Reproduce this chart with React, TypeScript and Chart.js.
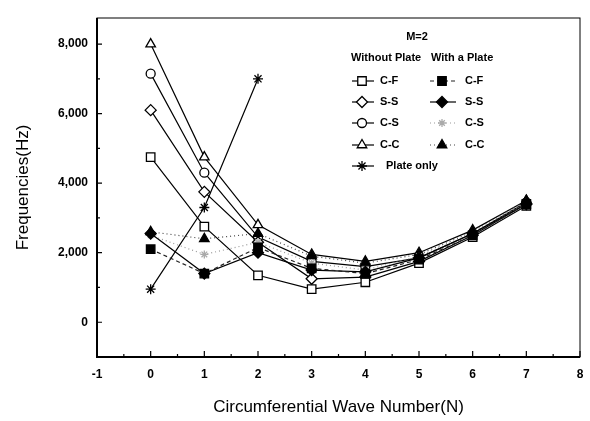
import React, { useEffect, useRef } from "react";
import { Chart, registerables } from "chart.js";
import { drawPoint } from "chart.js/helpers";

Chart.register(...registerables);

// ---- data ----
const waveN = [0, 1, 2, 3, 4, 5, 6, 7];
const plateN = [0, 1, 2];

const cfWithout = [4750, 2750, 1350, 950, 1150, 1700, 2450, 3350];
const ssWithout = [6100, 3750, 2300, 1250, 1300, 1750, 2500, 3400];
const csWithout = [7150, 4300, 2450, 1750, 1600, 1850, 2550, 3450];
const ccWithout = [8000, 4750, 2800, 1950, 1750, 2000, 2650, 3500];
const plateOnly = [950, 3300, 7000];

const cfWith = [2100, 1400, 2150, 1550, 1400, 1800, 2500, 3400];
const ssWith = [2550, 1400, 2000, 1500, 1450, 1850, 2550, 3400];
const csWith = [2500, 1950, 2300, 1700, 1500, 1900, 2550, 3450];
const ccWith = [2600, 2400, 2550, 1900, 1700, 1950, 2600, 3500];

const yTicks = [0, 2000, 4000, 6000, 8000];
const xTicks = [-1, 0, 1, 2, 3, 4, 5, 6, 7, 8];

const FONT = "'Liberation Sans', Arial, sans-serif";

type Style = {
  pointStyle: any;
  fill: string;
  stroke: string;
  dash: number[];
  lineColor: string;
  radius: number;
};

const styles: Record<string, Style> = {
  cfNo: { pointStyle: "rect", fill: "#fff", stroke: "#000", dash: [], lineColor: "#000", radius: 6 },
  ssNo: { pointStyle: "rectRot", fill: "#fff", stroke: "#000", dash: [], lineColor: "#000", radius: 5.5 },
  csNo: { pointStyle: "circle", fill: "#fff", stroke: "#000", dash: [], lineColor: "#000", radius: 4.5 },
  ccNo: { pointStyle: "triangle", fill: "#fff", stroke: "#000", dash: [], lineColor: "#000", radius: 5.5 },
  plate: { pointStyle: "star", fill: "#000", stroke: "#000", dash: [], lineColor: "#000", radius: 5 },
  cfW: { pointStyle: "rect", fill: "#000", stroke: "#000", dash: [4, 3], lineColor: "#222", radius: 6 },
  ssW: { pointStyle: "rectRot", fill: "#000", stroke: "#000", dash: [], lineColor: "#000", radius: 5.5 },
  csW: { pointStyle: "star", fill: "#bbb", stroke: "#aaa", dash: [1, 3], lineColor: "#999", radius: 4 },
  ccW: { pointStyle: "triangle", fill: "#000", stroke: "#000", dash: [1, 3], lineColor: "#444", radius: 5.5 },
};

function mk(label: string, xs: number[], ys: number[], s: Style) {
  return {
    label,
    data: xs.map((x, i) => ({ x, y: ys[i] })),
    borderColor: s.lineColor,
    borderWidth: 1.2,
    borderDash: s.dash,
    pointStyle: s.pointStyle,
    pointRadius: s.radius,
    pointBackgroundColor: s.fill,
    pointBorderColor: s.stroke,
    pointBorderWidth: 1.3,
    tension: 0,
    fill: false,
  };
}

const framePlugin = {
  id: "frame",
  afterDraw(chart: any) {
    const { ctx, chartArea: a, scales } = chart;
    const xs = scales.x;
    const ys = scales.y;
    ctx.save();
    ctx.strokeStyle = "#000";
    ctx.lineWidth = 1;
    ctx.strokeRect(a.left, a.top, a.right - a.left, a.bottom - a.top);
    ctx.lineWidth = 2;
    ctx.beginPath();
    ctx.moveTo(a.left, a.top);
    ctx.lineTo(a.left, a.bottom);
    ctx.lineTo(a.right, a.bottom);
    ctx.stroke();
    // inward ticks
    ctx.lineWidth = 1.2;
    ctx.beginPath();
    for (let v = -1; v <= 8.001; v += 0.5) {
      const px = xs.getPixelForValue(v);
      const len = Math.abs(v - Math.round(v)) < 0.01 ? 6 : 3;
      ctx.moveTo(px, a.bottom);
      ctx.lineTo(px, a.bottom - len);
    }
    for (let v = -1000; v <= 8000; v += 1000) {
      const py = ys.getPixelForValue(v);
      const len = v % 2000 === 0 ? 5 : 3;
      ctx.moveTo(a.left, py);
      ctx.lineTo(a.left + len, py);
    }
    ctx.stroke();

    // legend
    ctx.fillStyle = "#000";
    ctx.textBaseline = "middle";
    ctx.font = `bold 11px ${FONT}`;
    ctx.textAlign = "center";
    ctx.fillText("M=2", 417, 37);
    ctx.textAlign = "left";
    ctx.fillText("Without Plate", 351, 58);
    ctx.fillText("With a Plate", 431, 58);

    const rowY = [81, 102, 123, 145, 166];
    const leftItems: [string, Style][] = [
      ["C-F", styles.cfNo],
      ["S-S", styles.ssNo],
      ["C-S", styles.csNo],
      ["C-C", styles.ccNo],
      ["Plate only", styles.plate],
    ];
    const rightItems: [string, Style][] = [
      ["C-F", styles.cfW],
      ["S-S", styles.ssW],
      ["C-S", styles.csW],
      ["C-C", styles.ccW],
    ];
    const drawItem = (x0: number, x1: number, xm: number, xt: number, y: number, label: string, s: Style) => {
      ctx.save();
      ctx.strokeStyle = s.lineColor;
      ctx.lineWidth = 1.2;
      ctx.setLineDash(s.dash);
      ctx.beginPath();
      ctx.moveTo(x0, y);
      ctx.lineTo(x1, y);
      ctx.stroke();
      ctx.setLineDash([]);
      ctx.fillStyle = s.fill;
      ctx.strokeStyle = s.stroke;
      ctx.lineWidth = 1.3;
      drawPoint(ctx, { pointStyle: s.pointStyle, radius: s.radius, rotation: 0, borderWidth: 1.3 } as any, xm, y);
      ctx.restore();
      ctx.fillStyle = "#000";
      ctx.fillText(label, xt, y);
    };
    leftItems.forEach(([label, s], i) => {
      drawItem(352, 374, 362, label === "Plate only" ? 386 : 380, rowY[i], label, s);
    });
    rightItems.forEach(([label, s], i) => {
      drawItem(430, 456, 442, 465, rowY[i], label, s);
    });
    ctx.restore();
  },
};

export default function App() {
  const ref = useRef<HTMLCanvasElement | null>(null);
  useEffect(() => {
    const canvas = ref.current;
    if (!canvas) return;
    const chart = new Chart(canvas, {
      type: "line",
      data: {
        datasets: [
          mk("C-F with", waveN, cfWith, styles.cfW),
          mk("S-S with", waveN, ssWith, styles.ssW),
          mk("C-S with", waveN, csWith, styles.csW),
          mk("C-C with", waveN, ccWith, styles.ccW),
          mk("C-F", waveN, cfWithout, styles.cfNo),
          mk("S-S", waveN, ssWithout, styles.ssNo),
          mk("C-S", waveN, csWithout, styles.csNo),
          mk("C-C", waveN, ccWithout, styles.ccNo),
          mk("Plate only", plateN, plateOnly, styles.plate),
        ] as any,
      },
      options: {
        responsive: false,
        animation: false,
        layout: { padding: { top: 18, right: 10, left: 0, bottom: 0 } },
        plugins: { legend: { display: false }, tooltip: { enabled: false } },
        scales: {
          x: {
            type: "linear",
            min: -1,
            max: 8,
            afterFit: (s: any) => {
              s.height = 64;
              s.paddingLeft = 0;
              s.paddingRight = 0;
            },
            afterBuildTicks: (s: any) => {
              s.ticks = xTicks.map((v) => ({ value: v }));
            },
            grid: { display: false, drawTicks: false },
            border: { display: false },
            ticks: {
              padding: 10,
              color: "#000",
              font: { family: FONT, size: 12, weight: "bold" },
              callback: (v: any) => String(v),
            },
            title: {
              display: true,
              text: "Circumferential Wave Number(N)",
              color: "#000",
              font: { family: FONT, size: 17 },
              padding: { top: 0, bottom: 3 },
            },
          },
          y: {
            type: "linear",
            min: -1000,
            max: 8750,
            afterFit: (s: any) => {
              s.width = 97;
              s.paddingTop = 0;
              s.paddingBottom = 0;
            },
            afterBuildTicks: (s: any) => {
              s.ticks = yTicks.map((v) => ({ value: v }));
            },
            grid: { display: false, drawTicks: false },
            border: { display: false },
            ticks: {
              padding: 9,
              color: "#000",
              font: { family: FONT, size: 12, weight: "bold" },
              callback: (v: any) => Number(v).toLocaleString("en-US"),
            },
            title: {
              display: true,
              text: "Frequencies(Hz)",
              color: "#000",
              font: { family: FONT, size: 17 },
              padding: { top: 13, bottom: 0 },
            },
          },
        },
      } as any,
      plugins: [framePlugin],
    });
    return () => chart.destroy();
  }, []);
  return (
    <div style={{ position: "fixed", left: 0, top: 0, width: 590, height: 421, background: "#fff" }}>
      <canvas ref={ref} width={590} height={421} />
    </div>
  );
}
